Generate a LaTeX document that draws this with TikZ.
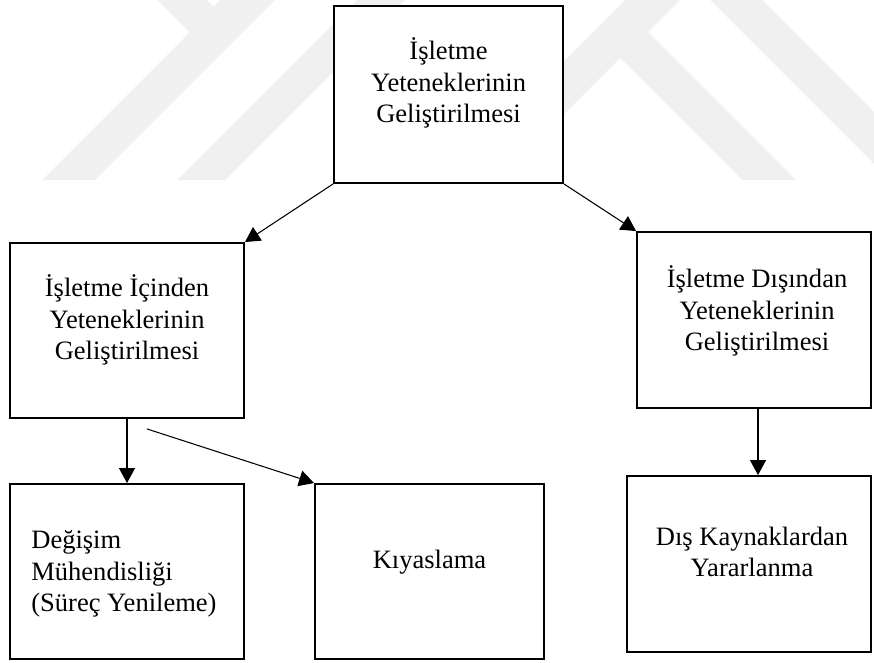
\documentclass[tikz,border=0pt]{standalone}
\usepackage{fontspec}
\setmainfont{Liberation Serif}
\usepackage{tikz}
\usetikzlibrary{arrows.meta,positioning,calc}
\usepackage{xcolor}
\definecolor{wmgray}{RGB}{240,240,240}

\begin{document}
\begin{tikzpicture}[x=0.02cm, y=-0.02cm,
    box/.style={draw, line width=1.1pt, fill=white, inner sep=0pt},
    txt/.style={inner sep=0pt, align=center, font=\fontsize{15.1}{17.8}\selectfont},
    arr/.style={-{Triangle[length=3mm, width=3.2mm]}, line width=0.6pt}]

    \useasboundingbox (0,0) rectangle (874,662);

    % Watermark
    \fill[wmgray] (42,180) -- (95,180) -- (275,0) -- (220,0) -- (213.5,6.5) -- (207,0)
        -- (157,0) -- (189.5,32.5) -- cycle;
    \fill[wmgray] (177,180) -- (225,180) -- (405,0) -- (357,0) -- cycle;
    \fill[wmgray] (445,180) -- (498,180) -- (620,58) -- (742,180) -- (796,180)
        -- (648,32) -- (680,0) -- (625,0) -- cycle;
    \fill[wmgray] (710,0) -- (762,0) -- (874,112) -- (874,164) -- cycle;

    % Boxes
    \node[box, minimum width=4.58cm, minimum height=3.54cm] (top) at (448.5,94.5) {};
    \node[box, minimum width=4.68cm, minimum height=3.5cm] (inside) at (127,330.5) {};
    \node[box, minimum width=4.68cm, minimum height=3.52cm] (outside) at (754,320) {};
    \node[box, minimum width=4.68cm, minimum height=3.5cm] (degisim) at (127,571.5) {};
    \node[box, minimum width=4.58cm, minimum height=3.5cm] (kiyas) at (429.5,571.5) {};
    \node[box, minimum width=4.88cm, minimum height=3.52cm] (dis) at (749,564) {};

    % Labels
    \node[txt] (toptxt) at (448.5,83) {İşletme\\Yeteneklerinin\\Geliştirilmesi};
    \node[txt] (intxt) at (127,320) {İşletme İçinden\\Yeteneklerinin\\Geliştirilmesi};
    \node[txt] (outtxt) at (757,311) {İşletme Dışından\\Yeteneklerinin\\Geliştirilmesi};
    \node[txt, align=left, anchor=west] (degtxt) at (31,574) {Değişim\\Mühendisliği\\(Süreç Yenileme)};
    \node[txt] (kiytxt) at (429.5,562) {Kıyaslama};
    \node[txt] (distxt) at (752,552) {Dış Kaynaklardan\\Yararlanma};

    % Arrows
    \coordinate (split) at ([xshift=0.4cm, yshift=-0.2cm]inside.south);
    \draw[arr] (top.south west) -- (inside.north east);
    \draw[arr] (top.south east) -- (outside.north west);
    \draw[arr] (inside.south) -- (degisim.north);
    \draw[arr] (split) -- (kiyas.north west);
    \draw[arr] ([xshift=0.08cm]outside.south) -- ([xshift=0.08cm]outside.south |- dis.north);
\end{tikzpicture}
\end{document}
